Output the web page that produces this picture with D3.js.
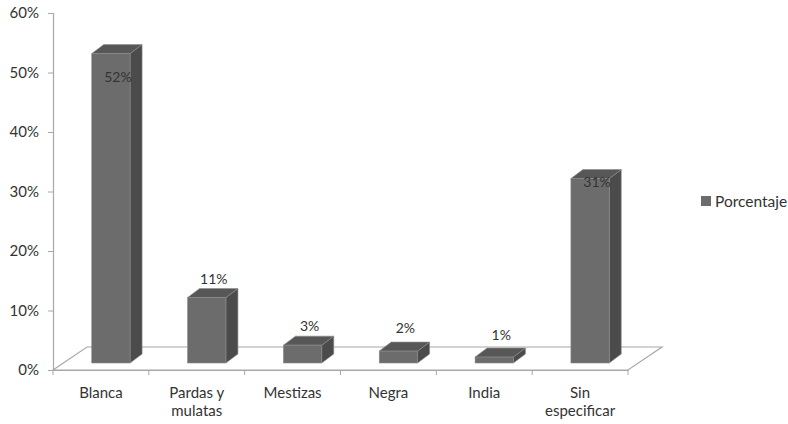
<!DOCTYPE html>
<html>
<head>
<meta charset="utf-8">
<script src="https://cdn.jsdelivr.net/npm/d3@7"></script>
<style>
  body { margin: 0; background: #fff; }
  svg text { font-family: Lato, "Open Sans", sans-serif; fill: #333; }
</style>
</head>
<body>
<svg id="chart" width="788" height="424"></svg>
<script>
// data
var categories = [["Blanca"], ["Pardas y", "mulatas"], ["Mestizas"], ["Negra"], ["India"], ["Sin", "especificar"]];
var values = [52, 11, 3, 2, 1, 31];
var yTicks = [0, 10, 20, 30, 40, 50, 60];
var seriesName = "Porcentaje";

var svg = d3.select("#chart");
var left = 53, right = 628, plotTop = 13, bottom = 370;
var floorDx = 34, floorDy = -23;   // depth of the floor
var barDx = 10, barDy = -7;        // front face of bars sits into the floor
var sideDx = 12, sideDy = -9;      // bar depth

var x = d3.scaleBand().domain(d3.range(values.length)).range([left, right]).paddingInner(0).paddingOuter(0);
var y = d3.scaleLinear().domain([0, 60]).range([bottom, plotTop]);

// floor
var g = svg.append("g");
g.append("path")
  .attr("d", "M" + left + "," + bottom + "L" + (left + floorDx) + "," + (bottom + floorDy) +
             "L" + (right + floorDx) + "," + (bottom + floorDy) + "L" + right + "," + bottom + "Z")
  .attr("fill", "none").attr("stroke", "#a8a8a8").attr("stroke-width", 1.2);

// y axis
var yAxis = d3.axisLeft(y).tickValues(yTicks).tickSize(5).tickFormat(function(d) { return d + "%"; });
var ya = svg.append("g").attr("transform", "translate(" + left + ",0)").call(yAxis);
ya.select(".domain").attr("stroke", "#a8a8a8").attr("stroke-width", 1.2);
ya.selectAll(".tick line").attr("stroke", "#a8a8a8");
ya.selectAll(".tick text").attr("x", -14).style("font-size", "15px").attr("fill", "#333");

// x axis (front floor edge)
var xAxis = d3.axisBottom(x).tickSize(0).tickFormat("");
var xa = svg.append("g").attr("transform", "translate(0," + bottom + ")").call(xAxis);
xa.select(".domain").attr("stroke", "#a8a8a8").attr("stroke-width", 1.2);
xa.selectAll(".bound").data(d3.range(values.length + 1)).enter().append("line")
  .attr("x1", function(i) { return left + i * x.bandwidth(); })
  .attr("x2", function(i) { return left + i * x.bandwidth(); })
  .attr("y1", 0).attr("y2", 5).attr("stroke", "#a8a8a8");

// category labels
var cat = svg.append("g").selectAll("text").data(categories).enter().append("text")
  .attr("text-anchor", "middle").style("font-size", "15px")
  .attr("x", function(d, i) { return x(i) + x.bandwidth() / 2; })
  .attr("y", 398);
cat.selectAll("tspan").data(function(d) { return d; }).enter().append("tspan")
  .attr("x", function() { return d3.select(this.parentNode).attr("x"); })
  .attr("dy", function(d, j) { return j === 0 ? 0 : 18; })
  .text(function(d) { return d; });

// bars
var bw = x.bandwidth() * 0.4;
var bars = svg.append("g").selectAll("g").data(values).enter().append("g");
function fx(i) { return x(i) + (x.bandwidth() - bw) / 2 + barDx; }
bars.append("path") // side
  .attr("d", function(v, i) {
    var x1 = fx(i) + bw, y0 = y(0) + barDy, y1 = y(v) + barDy;
    return "M" + x1 + "," + y0 + "L" + (x1 + sideDx) + "," + (y0 + sideDy) +
           "L" + (x1 + sideDx) + "," + (y1 + sideDy) + "L" + x1 + "," + y1 + "Z";
  })
  .attr("fill", "#4b4b4b").attr("stroke", "#8a8a8a").attr("stroke-width", 0.6);
bars.append("path") // top
  .attr("d", function(v, i) {
    var x0 = fx(i), x1 = x0 + bw, y1 = y(v) + barDy;
    return "M" + x0 + "," + y1 + "L" + (x0 + sideDx) + "," + (y1 + sideDy) +
           "L" + (x1 + sideDx) + "," + (y1 + sideDy) + "L" + x1 + "," + y1 + "Z";
  })
  .attr("fill", "#575757").attr("stroke", "#8a8a8a").attr("stroke-width", 0.6);
bars.append("rect") // front
  .attr("x", function(v, i) { return fx(i); })
  .attr("y", function(v) { return y(v) + barDy; })
  .attr("width", bw)
  .attr("height", function(v) { return y(0) - y(v); })
  .attr("fill", "#6c6c6c").attr("stroke", "#8a8a8a").attr("stroke-width", 0.6);

// data labels (Excel placed the tall ones inside the bar)
var labelDy = [28, -14, -14, -18, -17, 8];
svg.append("g").selectAll("text").data(values).enter().append("text")
  .attr("text-anchor", "middle").style("font-size", "14px").attr("fill", "#333")
  .attr("x", function(v, i) { return fx(i) + bw / 2 + 7; })
  .attr("y", function(v, i) { return y(v) + barDy + labelDy[i]; })
  .text(function(v) { return v + "%"; });

// legend
var lg = svg.append("g").attr("transform", "translate(701,196)");
lg.append("rect").attr("width", 10).attr("height", 10).attr("fill", "#6c6c6c");
lg.append("text").attr("x", 14).attr("y", 10.5).style("font-size", "15.5px").text(seriesName);
</script>
</body>
</html>
